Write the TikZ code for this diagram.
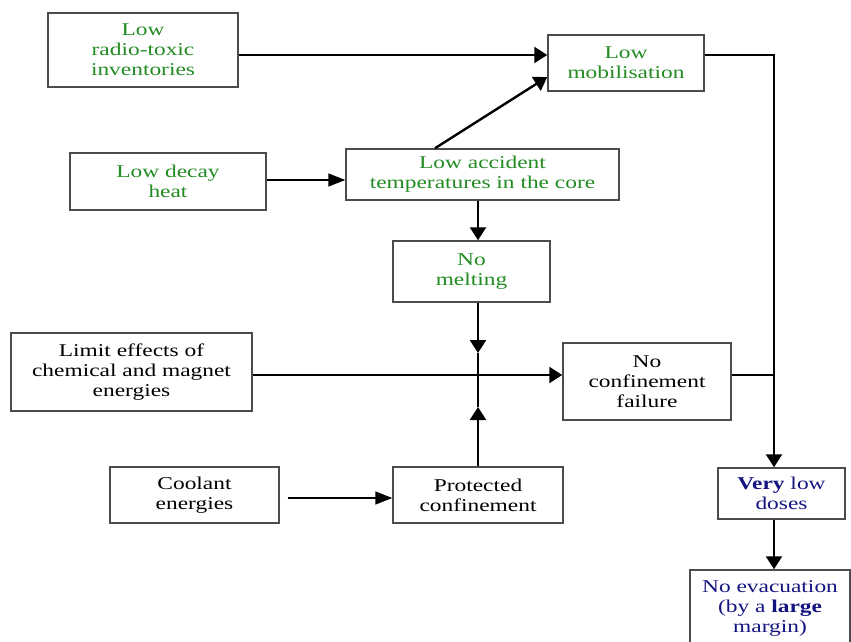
\documentclass[tikz,border=0pt]{standalone}
\usepackage{fontspec}
\setmainfont{Liberation Serif}[FakeStretch=1.3]
\usetikzlibrary{arrows.meta}
\definecolor{tgreen}{RGB}{34,139,34}
\definecolor{tblue}{RGB}{20,20,128}
\begin{document}
\begin{tikzpicture}[x=1pt,y=-1pt,
  box/.style={draw=black!70, line width=1.5pt, align=center, inner sep=0pt, font=\fontsize{18}{20}\selectfont},
  con/.style={line width=2.4pt},
  arr/.style={con, -{Triangle[length=13pt,width=16pt]}},
  thinarr/.style={line width=1.5pt, -{Triangle[length=17pt,width=13pt]}}]
\useasboundingbox (0,0) rectangle (851,642);
\node[box, minimum width=190pt, minimum height=74pt, text=tgreen] (A) at (143,50) {Low\\radio-toxic\\inventories};
\node[box, minimum width=156pt, minimum height=56pt, text=tgreen] (B) at (626,63) {Low\\mobilisation};
\node[box, minimum width=196pt, minimum height=57pt, text=tgreen] (C) at (168,181.5) {Low decay\\heat};
\node[box, minimum width=273pt, minimum height=51pt, text=tgreen] (D) at (482.5,174.5) {Low accident\\temperatures in the core};
\node[box, minimum width=157pt, minimum height=61pt, text=tgreen] (E) at (471.5,271.5) {No\\melting};
\node[box, minimum width=241pt, minimum height=78pt, text=black] (F) at (131.5,372) {Limit effects of\\chemical and magnet\\energies};
\node[box, minimum width=168pt, minimum height=77pt, text=black] (G) at (647,381.5) {No\\confinement\\failure};
\node[box, minimum width=169pt, minimum height=56pt, text=black] (H) at (194.5,495) {Coolant\\energies};
\node[box, minimum width=170pt, minimum height=56pt, text=black] (I) at (478,495) {Protected\\confinement};
\node[box, minimum width=127pt, minimum height=51pt, text=tblue] (J) at (781.5,493.5) {{\bfseries Very} low\\doses};
\node[box, minimum width=160pt, minimum height=76pt, text=tblue] (K) at (770,608) {No evacuation\\(by a {\bfseries large}\\margin)};
\coordinate (X) at (478,375);
\coordinate (R) at (774,375);
\path ([xshift=8pt]H.east) coordinate (h1);
\draw[arr] (A.east |- 0,55) -- (B.west |- 0,55);
\draw[arr] (B.east |- 0,55) -| (J.north -| 774,0);
\draw[thinarr] (C.east |- 0,180) -- (D.west |- 0,180);
\draw[arr] (D.north -| 435,0) -- (B.west |- 0,77);
\draw[arr] (D.south -| 478,0) -- (E.north -| 478,0);
\draw[arr] (E.south -| 478,0) -- (478,353);
\draw[con] (478,353) -- (X);
\draw[arr] (I.north -| 478,0) -- (478,407);
\draw[con] (478,407) -- (X);
\draw[arr] (F.east |- 0,375) -- (G.west |- 0,375);
\draw[con] (G.east |- 0,375) -- (R);
\draw[thinarr] (h1 |- 0,498) -- (I.west |- 0,498);
\draw[arr] (J.south -| 774,0) -- (K.north -| 774,0);
\end{tikzpicture}
\end{document}
